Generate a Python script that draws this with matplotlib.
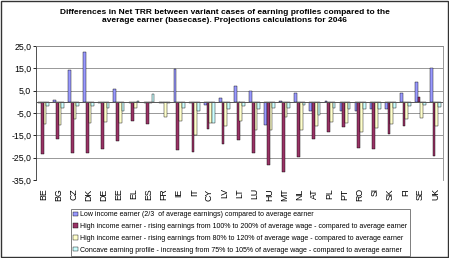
import matplotlib.pyplot as plt
import numpy as np
from matplotlib.patches import Rectangle

plt.rcParams['font.family'] = ['Liberation Sans', 'DejaVu Sans']

countries = ["BE", "BG", "CZ", "DK", "DE", "EE", "EL", "ES", "FR", "IE", "IT", "CY", "LV", "LT",
             "LU", "HU", "MT", "NL", "AT", "PL", "PT", "RO", "SI", "SK", "FI", "SE", "UK"]

low_income = [-0.5, 1.0, 14.3, 22.3, -0.4, 5.8, -0.5, -0.5, -0.3, 14.8, -0.3, -1.5, 1.8, 7.3,
              4.7, -10.3, 0.4, 4.0, -3.9, 0.3, -3.9, -3.9, -3.0, -3.0, 4.0, 8.9, 15.0]
high_100_200 = [-23.5, -16.8, -22.8, -22.8, -21.0, -17.6, -8.5, -9.9, -0.3, -21.6, -22.3, -12.2, -19.0, -17.1,
                -22.8, -28.3, -31.4, -24.7, -16.8, -13.4, -11.2, -20.5, -21.0, -14.2, -10.6, 2.2, -24.3]
high_80_120 = [-9.8, -10.5, -7.5, -9.4, -9.1, -9.3, -2.7, -0.4, -6.8, -8.8, -15.0, -9.4, -10.9, -8.4,
               -12.4, -12.8, -6.7, -12.7, -10.6, -9.1, -9.6, -13.6, -11.6, -10.0, -7.6, -7.1, -10.6]
concave = [-2.0, -2.6, -1.7, -2.0, -2.6, -3.9, 0.3, 3.3, -0.5, -2.7, -4.2, -9.4, -3.0, -2.0,
           -3.4, -2.7, -2.6, -1.5, -5.7, -2.6, -3.0, -3.0, -3.0, -2.6, -2.0, -1.5, -2.3]

labels = ["Low income earner (2/3  of average earnings) compared to average earner",
          "High income earner - rising earnings from 100% to 200% of average wage - compared to average earner",
          "High income earner - rising earnings from 80% to 120% of average wage - compared to average earner",
          "Concave earning profile - increasing from 75% to 105% of average wage - compared to average earner"]
colors = ["#9999FF", "#993366", "#FFFFCC", "#CCFFFF"]

fig = plt.figure(figsize=(4.49, 2.58), dpi=100)
ax = fig.add_axes([36/449, 1-180/258, 407/449, 134/258])

x = np.arange(len(countries))
w = 0.18
series = [low_income, high_100_200, high_80_120, concave]
for k, vals in enumerate(series):
    ax.bar(x + (k - 1.5)*w, vals, w, color=colors[k], edgecolor="black", linewidth=0.3,
           label=labels[k], zorder=3)

ax.set_xlim(-0.5, len(countries) - 0.5)
ax.set_ylim(-35, 25)
yt = [25, 15, 5, -5, -15, -25, -35]
ax.set_yticks(yt)
ax.set_yticklabels([("%.1f" % v).replace(".", ",") for v in yt], fontsize=6.3)
ax.yaxis.grid(True, color="#888888", linewidth=0.6, zorder=0)
ax.axhline(0, color="#555555", linewidth=0.7, zorder=4)
ax.set_xticks(x)
ax.set_xticklabels(countries, rotation=90, fontsize=6.3)
ax.tick_params(axis="x", length=0, pad=6)
ax.tick_params(axis="y", length=2, width=0.6, pad=1.5)
for s in ["top", "right"]:
    ax.spines[s].set_color("#888888")
    ax.spines[s].set_linewidth(0.6)
ax.spines["bottom"].set_visible(False)
ax.spines["left"].set_color("#333333")
ax.spines["left"].set_linewidth(0.6)

fig.text(0.5, 1-16.5/258, "Differences in Net TRR between variant cases of earning profiles compared to the\n"
         "average earner (basecase). Projections calculations for 2046",
         ha="center", va="center", fontsize=6.0, fontweight="bold", linespacing=1.35)

leg = fig.legend(loc="upper left", bbox_to_anchor=(71/449, 1-209/258), fontsize=5.0,
                 frameon=True, fancybox=False, edgecolor="#444444", handlelength=0.65,
                 handleheight=0.65, handletextpad=0.35, labelspacing=0.68, borderpad=0.35,
                 borderaxespad=0)
leg.get_frame().set_linewidth(0.6)

fig.patches.append(Rectangle((0.002, 0.002), 0.996, 0.996, transform=fig.transFigure,
                             fill=False, edgecolor="#333333", linewidth=1.0))

fig.savefig("out.png", dpi=100)
